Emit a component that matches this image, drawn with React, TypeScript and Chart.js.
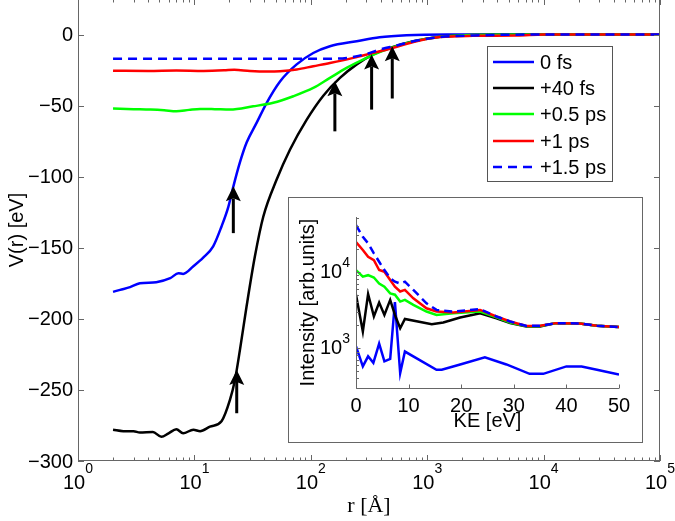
import React, { useEffect, useRef } from "react";
import { Chart, registerables } from "chart.js";
Chart.register(...registerables);

const FONT = '"Liberation Sans", Arial, sans-serif';
const SERIF = '"Liberation Serif", "Times New Roman", serif';
const AXIS = "#666";

// ---------- main chart data: r [Å] and V(r) [eV] ----------
const rBlue0 = [2, 2.3, 2.8, 3.4, 4.7, 6.2, 7.3, 8.0, 9.8, 11.9, 14.5, 17.1, 19.6, 21.6, 24.6, 28.1, 34.3, 41.8, 54.4, 75.6, 105, 146, 248, 390, 665, 1500, 5000, 20000, 100000];
const vBlue0 = [-181, -179.6, -177.7, -175, -174.2, -171.4, -167.9, -168.4, -163, -157, -149, -135, -121, -107, -90, -76, -62, -48, -33, -21, -13, -8.2, -4.7, -1.9, -0.5, 0, 0, 0, 0];

const rBlack40 = [2, 2.45, 3.0, 3.4, 4.4, 5.2, 6.0, 7.0, 8.0, 9.8, 11.2, 13.6, 17.1, 20.2, 22.3, 24.6, 28.1, 33.1, 39.1, 50.9, 66.2, 92, 128, 178, 248, 344, 479, 762, 1290, 2470, 10000, 100000];
const vBlack40 = [-278, -279, -279, -280, -279.6, -283, -280.5, -277.7, -280.5, -278, -279, -275.8, -272, -257, -243, -222, -191, -156, -128, -102, -81, -60, -43, -30.5, -21, -14, -9.4, -4.7, -1.6, -0.3, 0, 0];

const rGreen05 = [2, 3, 4.2, 5.5, 7.0, 9, 11.2, 15, 20.2, 32, 47.6, 70.8, 105, 146, 203, 302, 479, 762, 1290, 2470, 10000, 100000];
const vGreen05 = [-52.1, -52.5, -52.8, -53.3, -54, -53, -52.3, -52.5, -52.8, -50.5, -48, -43.4, -37.6, -30.5, -23.5, -16.4, -9.6, -4.8, -1.6, -0.3, 0, 0];

const rRed1 = [2, 4, 7, 12, 18, 22, 30, 41.8, 54.4, 75.6, 105, 146, 232, 344, 479, 762, 1290, 2470, 5900, 10000, 100000];
const vRed1 = [-25.4, -25.6, -25.3, -25.6, -25.2, -24.8, -25.6, -26, -25.8, -24.6, -22.3, -20, -16.4, -12.9, -10, -5.2, -1.8, -0.9, -0.7, 0, 0];

const rDash15 = [2, 10, 50, 150, 203, 302, 390, 548, 762, 1290, 3000, 10000, 100000];
const vDash15 = [-17.1, -17.1, -17.1, -17, -16.5, -13.6, -10.6, -7.7, -4.7, -1.8, -0.5, 0, 0];

const legendLabels = ["0 fs", "+40 fs", "+0.5 ps", "+1 ps", "+1.5 ps"];
const seriesColors = ["#0000ff", "#000000", "#00ff00", "#ff0000", "#0000ff"];

const xDecades = [0, 1, 2, 3, 4, 5];
const yTickValues = [-300, -250, -200, -150, -100, -50, 0];

const arrowR = [21.6, 23.1, 161, 333, 501];
const arrowTipV = [-106.8, -236, -32.9, -14.1, -8.2];
const arrowTailV = [-139.7, -266.4, -68.1, -52.8, -45];

// ---------- inset data: KE [eV] and intensity ----------
const keBlue0 = [0, 1.3, 2.3, 3.3, 4.4, 5.4, 6.5, 7.4, 8.4, 9.3, 15.3, 16.3, 19.8, 24.5, 28.6, 33, 35.6, 40, 42.9, 45.8, 50];
const inBlue0 = [1050, 575, 780, 640, 1140, 670, 720, 4000, 470, 900, 520, 520, 610, 755, 610, 460, 460, 575, 575, 520, 450];

const keBlack40 = [0, 1.3, 2.3, 3.4, 4.4, 5.4, 6.5, 7.4, 8.4, 9.3, 14.4, 16.6, 19.8, 23.6, 26.7, 29.3, 32.4, 35, 38, 42.5, 45.8, 50];
const inBlack40 = [5000, 1650, 5100, 2600, 3950, 2720, 4270, 2720, 1820, 2400, 2050, 2160, 2510, 2860, 2460, 2120, 1920, 1920, 2120, 2100, 1960, 1880];

const keLate = [0, 1.3, 2.3, 3.4, 4.4, 5.4, 6.5, 7.4, 8.4, 9.3, 10.9, 13.4, 15.3, 18.5, 23.6, 26.7, 29.3, 32.4, 35, 38, 42.5, 45.8, 50];
const inGreen05 = [10500, 8600, 9000, 8400, 7000, 6350, 5200, 5000, 4060, 4270, 3670, 3010, 2720, 2860, 3000, 2520, 2150, 1930, 1940, 2120, 2100, 1960, 1880];
const inRed1 = [24500, 19200, 15700, 14200, 10500, 10000, 7800, 6350, 5500, 5770, 4480, 3320, 3010, 2930, 3160, 2590, 2230, 1950, 1960, 2120, 2100, 1960, 1880];
const inDash15 = [40700, 28600, 23500, 17400, 13500, 10500, 8200, 7400, 7000, 7400, 5770, 3860, 3160, 3000, 3230, 2590, 2230, 1950, 1960, 2120, 2100, 1960, 1880];

const insetXTicks = [0, 10, 20, 30, 40, 50];
const insetYDecades = [3, 4];

const toXY = (xs: number[], ys: number[]) => xs.map((x, i) => ({ x, y: ys[i] }));

function drawPow(ctx: CanvasRenderingContext2D, cx: number, baseY: number, supY: number, exp: string, align: "center" | "right") {
  ctx.font = `20px ${FONT}`;
  const w1 = ctx.measureText("10").width;
  ctx.font = `14px ${FONT}`;
  const w2 = ctx.measureText(exp).width;
  const total = w1 + w2;
  const start = align === "center" ? cx - total / 2 : cx - total;
  ctx.textAlign = "left";
  ctx.textBaseline = "alphabetic";
  ctx.font = `20px ${FONT}`;
  ctx.fillText("10", start, baseY);
  ctx.font = `14px ${FONT}`;
  ctx.fillText(exp, start + w1, supY);
}

const mainDecor = {
  id: "mainDecor",
  afterDatasetsDraw(chart: any) {
    const ctx = chart.ctx;
    const xs = chart.scales.x;
    const ys = chart.scales.y;
    ctx.save();
    ctx.fillStyle = "#000";
    ctx.strokeStyle = "#000";
    for (let i = 0; i < arrowR.length; i++) {
      const x = xs.getPixelForValue(arrowR[i]);
      const yTip = ys.getPixelForValue(arrowTipV[i]);
      const yTail = ys.getPixelForValue(arrowTailV[i]);
      ctx.lineWidth = 3;
      ctx.beginPath();
      ctx.moveTo(x, yTail);
      ctx.lineTo(x, yTip + 12);
      ctx.stroke();
      ctx.beginPath();
      ctx.moveTo(x, yTip);
      ctx.lineTo(x - 7.5, yTip + 15);
      ctx.lineTo(x, yTip + 12);
      ctx.lineTo(x + 7.5, yTip + 15);
      ctx.closePath();
      ctx.fill();
    }
    ctx.restore();
  },
  afterDraw(chart: any) {
    const ctx = chart.ctx;
    const { left, right, top, bottom } = chart.chartArea;
    const xs = chart.scales.x;
    const ys = chart.scales.y;
    ctx.save();
    // box
    ctx.strokeStyle = AXIS;
    ctx.lineWidth = 1;
    ctx.strokeRect(Math.round(left) + 0.5, Math.round(top) + 0.5, Math.round(right - left) - 1, Math.round(bottom - top) - 1);
    // x ticks
    ctx.beginPath();
    for (const k of xDecades) {
      const x = Math.round(xs.getPixelForValue(Math.pow(10, k))) + 0.5;
      ctx.moveTo(x, bottom); ctx.lineTo(x, bottom - 6);
      ctx.moveTo(x, top); ctx.lineTo(x, top + 6);
      if (k < 5) {
        for (let m = 2; m <= 9; m++) {
          const xm = Math.round(xs.getPixelForValue(m * Math.pow(10, k))) + 0.5;
          ctx.moveTo(xm, bottom); ctx.lineTo(xm, bottom - 3.5);
          ctx.moveTo(xm, top); ctx.lineTo(xm, top + 3.5);
        }
      }
    }
    for (const v of yTickValues) {
      const y = Math.round(ys.getPixelForValue(v)) + 0.5;
      ctx.moveTo(left, y); ctx.lineTo(left + 6, y);
      ctx.moveTo(right, y); ctx.lineTo(right - 6, y);
    }
    ctx.stroke();
    // labels
    ctx.fillStyle = "#000";
    ctx.font = `20px ${FONT}`;
    ctx.textAlign = "right";
    ctx.textBaseline = "middle";
    for (const v of yTickValues) {
      const y = ys.getPixelForValue(v);
      ctx.fillText(String(v).replace("-", "\u2212"), left - 5, y + 1);
    }
    for (const k of xDecades) {
      const x = xs.getPixelForValue(Math.pow(10, k));
      drawPow(ctx, x, bottom + 28, bottom + 12, String(k), "center");
    }
    // axis titles
    ctx.font = `20px ${FONT}`;
    ctx.textAlign = "center";
    ctx.textBaseline = "middle";
    ctx.save();
    ctx.translate(17, (top + bottom) / 2);
    ctx.rotate(-Math.PI / 2);
    ctx.fillText("V(r) [eV]", 0, 0);
    ctx.restore();
    ctx.font = `22px ${SERIF}`;
    ctx.fillText("r [\u00C5]", (left + right) / 2, bottom + 45);
    // legend
    const lx = 487, ly = 47, lw = 125, lh = 135;
    ctx.fillStyle = "#fff";
    ctx.fillRect(lx, ly, lw, lh);
    ctx.strokeStyle = "#555";
    ctx.lineWidth = 1;
    ctx.strokeRect(lx + 0.5, ly + 0.5, lw, lh);
    const rows = [63, 89, 115, 142, 168];
    for (let i = 0; i < legendLabels.length; i++) {
      ctx.strokeStyle = seriesColors[i];
      ctx.lineWidth = 2.5;
      ctx.setLineDash(i === 4 ? [9, 6] : []);
      ctx.beginPath();
      ctx.moveTo(493, rows[i]);
      ctx.lineTo(534, rows[i]);
      ctx.stroke();
      ctx.setLineDash([]);
      ctx.fillStyle = "#000";
      ctx.font = `20px ${FONT}`;
      ctx.textAlign = "left";
      ctx.textBaseline = "middle";
      ctx.fillText(legendLabels[i], 540, rows[i] + 1);
    }
    ctx.restore();
  },
};

const insetDecor = {
  id: "insetDecor",
  beforeDraw(chart: any) {
    const ctx = chart.ctx;
    ctx.save();
    ctx.fillStyle = "#fff";
    ctx.fillRect(0, 0, chart.width, chart.height);
    ctx.strokeStyle = AXIS;
    ctx.lineWidth = 1;
    ctx.strokeRect(0.5, 0.5, chart.width - 1, chart.height - 1);
    ctx.restore();
  },
  afterDraw(chart: any) {
    const ctx = chart.ctx;
    const { left, right, top, bottom } = chart.chartArea;
    const xs = chart.scales.x;
    const ys = chart.scales.y;
    ctx.save();
    ctx.strokeStyle = AXIS;
    ctx.lineWidth = 1;
    const L = Math.round(left) + 0.5;
    const B = Math.round(bottom) + 0.5;
    ctx.beginPath();
    ctx.moveTo(L, Math.round(top));
    ctx.lineTo(L, B);
    ctx.lineTo(Math.round(right), B);
    for (const t of insetXTicks) {
      const x = Math.round(xs.getPixelForValue(t)) + 0.5;
      ctx.moveTo(x, B); ctx.lineTo(x, B - 4);
    }
    for (const k of [2, 3, 4]) {
      for (let m = 1; m <= 9; m++) {
        const v = m * Math.pow(10, k);
        if (v < ys.min || v > ys.max) continue;
        const y = Math.round(ys.getPixelForValue(v)) + 0.5;
        ctx.moveTo(L, y); ctx.lineTo(L + (m === 1 ? 4 : 2.5), y);
      }
    }
    ctx.stroke();
    ctx.fillStyle = "#000";
    ctx.font = `20px ${FONT}`;
    ctx.textAlign = "center";
    ctx.textBaseline = "middle";
    for (const t of insetXTicks) {
      ctx.fillText(String(t), xs.getPixelForValue(t), bottom + 18);
    }
    for (const k of insetYDecades) {
      const y = ys.getPixelForValue(Math.pow(10, k));
      drawPow(ctx, left - 6, y + 6, y - 5, String(k), "right");
    }
    ctx.font = `20px ${FONT}`;
    ctx.textAlign = "center";
    ctx.textBaseline = "middle";
    ctx.fillText("KE [eV]", (left + right) / 2, bottom + 33);
    ctx.save();
    ctx.translate(20, (top + bottom) / 2);
    ctx.rotate(-Math.PI / 2);
    ctx.fillText("Intensity [arb.units]", 0, 0);
    ctx.restore();
    ctx.restore();
  },
};

export default function App() {
  const mainRef = useRef<HTMLCanvasElement>(null);
  const insetRef = useRef<HTMLCanvasElement>(null);

  useEffect(() => {
    const mk = (label: string, data: any, color: string, order: number, dash?: number[], smooth = true) => ({
      label,
      data,
      borderColor: color,
      backgroundColor: color,
      borderWidth: 2.5,
      borderDash: dash || [],
      pointRadius: 0,
      fill: false,
      order,
      cubicInterpolationMode: smooth ? "monotone" : "default",
      tension: 0,
    });

    const main = new Chart(mainRef.current!, {
      type: "line",
      data: {
        datasets: [
          mk(legendLabels[0], toXY(rBlue0, vBlue0), seriesColors[0], 4),
          mk(legendLabels[1], toXY(rBlack40, vBlack40), seriesColors[1], 3),
          mk(legendLabels[2], toXY(rGreen05, vGreen05), seriesColors[2], 2),
          mk(legendLabels[3], toXY(rRed1, vRed1), seriesColors[3], 1),
          mk(legendLabels[4], toXY(rDash15, vDash15), seriesColors[4], 0, [9, 6]),
        ] as any,
      },
      options: {
        animation: false,
        responsive: false,
        devicePixelRatio: 1,
        layout: { padding: { left: 0, right: 15, top: 0, bottom: 0 } },
        plugins: { legend: { display: false }, tooltip: { enabled: false } },
        scales: {
          x: {
            type: "logarithmic",
            min: 1,
            max: 100000,
            grid: { display: false },
            border: { display: false },
            ticks: { display: false },
            afterFit: (s: any) => { s.height = 60; s.paddingLeft = 0; s.paddingRight = 0; },
          },
          y: {
            type: "linear",
            min: -300,
            max: 25,
            grid: { display: false },
            border: { display: false },
            ticks: { display: false },
            afterFit: (s: any) => { s.width = 78; s.paddingTop = 0; s.paddingBottom = 0; },
          },
        },
      } as any,
      plugins: [mainDecor],
    });

    const inset = new Chart(insetRef.current!, {
      type: "line",
      data: {
        datasets: [
          mk(legendLabels[0], toXY(keBlue0, inBlue0), seriesColors[0], 4, undefined, false),
          mk(legendLabels[1], toXY(keBlack40, inBlack40), seriesColors[1], 3, undefined, false),
          mk(legendLabels[2], toXY(keLate, inGreen05), seriesColors[2], 2, undefined, false),
          mk(legendLabels[3], toXY(keLate, inRed1), seriesColors[3], 1, undefined, false),
          mk(legendLabels[4], toXY(keLate, inDash15), seriesColors[4], 0, [8, 5], false),
        ] as any,
      },
      options: {
        animation: false,
        responsive: false,
        devicePixelRatio: 1,
        layout: { padding: { left: 0, right: 24, top: 20, bottom: 0 } },
        plugins: { legend: { display: false }, tooltip: { enabled: false } },
        scales: {
          x: {
            type: "linear",
            min: 0,
            max: 50,
            grid: { display: false },
            border: { display: false },
            ticks: { display: false },
            afterFit: (s: any) => { s.height = 55; s.paddingLeft = 0; s.paddingRight = 0; },
          },
          y: {
            type: "logarithmic",
            min: 300,
            max: 52000,
            grid: { display: false },
            border: { display: false },
            ticks: { display: false },
            afterFit: (s: any) => { s.width = 68; s.paddingTop = 0; s.paddingBottom = 0; },
          },
        },
      } as any,
      plugins: [insetDecor],
    });

    return () => {
      main.destroy();
      inset.destroy();
    };
  }, []);

  return (
    <div style={{ position: "fixed", left: 0, top: 0, width: 675, height: 521, background: "#fff", overflow: "hidden" }}>
      <canvas ref={mainRef} width={675} height={522} style={{ position: "absolute", left: 0, top: -1, width: 675, height: 522 }} />
      <canvas ref={insetRef} width={355} height={246} style={{ position: "absolute", left: 288, top: 197, width: 355, height: 246 }} />
    </div>
  );
}
